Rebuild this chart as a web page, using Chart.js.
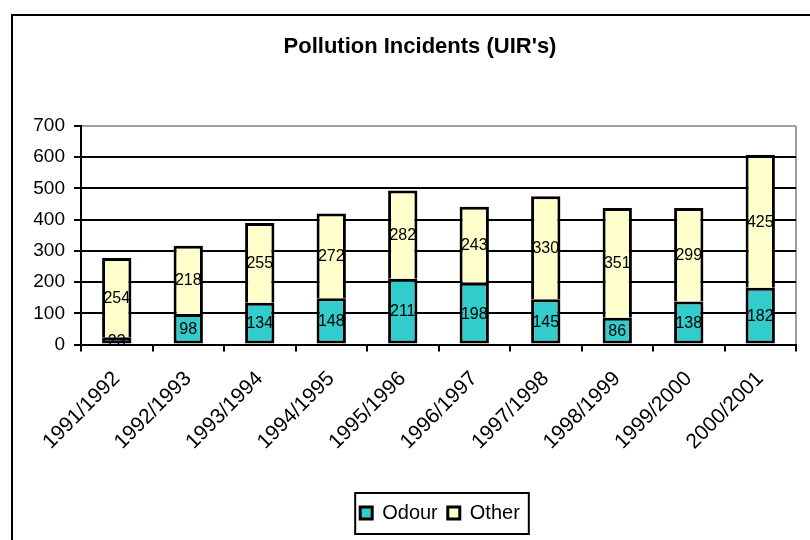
<!DOCTYPE html>
<html>
<head>
<meta charset="utf-8">
<script src="https://cdn.jsdelivr.net/npm/chart.js@4/dist/chart.umd.min.js"></script>
<style>
  html, body { margin: 0; padding: 0; background: #fff; }
  #wrap { width: 810px; height: 540px; }
</style>
</head>
<body>
<div id="wrap"><canvas id="c" width="810" height="540"></canvas></div>
<script>
// Pollution incident counts per reporting year
const years = ['1991/1992', '1992/1993', '1993/1994', '1994/1995', '1995/1996',
               '1996/1997', '1997/1998', '1998/1999', '1999/2000', '2000/2001'];
const odour = [23, 98, 134, 148, 211, 198, 145, 86, 138, 182];
const other = [254, 218, 255, 272, 282, 243, 330, 351, 299, 425];
const yTicks = [0, 100, 200, 300, 400, 500, 600, 700];

const FONT = "'Liberation Sans', Arial, sans-serif";
const GREY = '#a0a0a0';

// Outer frame of the chart object
const framePlugin = {
  id: 'frame',
  beforeDraw(chart) {
    const { ctx, width, height } = chart;
    ctx.save();
    ctx.fillStyle = '#fff';
    ctx.fillRect(0, 0, width, height);
    ctx.strokeStyle = '#000';
    ctx.lineWidth = 2;
    ctx.beginPath();
    ctx.moveTo(12, height);
    ctx.lineTo(12, 15);
    ctx.lineTo(width, 15);
    ctx.stroke();
    ctx.restore();
  }
};

// Title and legend sit centred on the whole frame rather than the plot
const centreOnFrame = {
  id: 'centreOnFrame',
  afterLayout(chart) {
    const move = (box, dx) => { if (box) { box.left += dx; box.right += dx; } };
    move(chart.titleBlock, 22);
    move(chart.legend, 42);
  }
};

// Value labels centred inside each stacked segment
const segmentLabels = {
  id: 'segmentLabels',
  afterDatasetsDraw(chart) {
    const { ctx } = chart;
    ctx.save();
    ctx.font = '16px ' + FONT;
    ctx.fillStyle = '#000';
    ctx.textAlign = 'center';
    ctx.textBaseline = 'middle';
    chart.data.datasets.forEach((ds, di) => {
      const meta = chart.getDatasetMeta(di);
      meta.data.forEach((bar, i) => {
        const p = bar.getProps(['x', 'y', 'base'], true);
        ctx.fillText(String(ds.data[i]), p.x, (p.y + p.base) / 2 + 1);
      });
    });
    ctx.restore();
  }
};

// Box drawn around the legend entries
const legendBox = {
  id: 'legendBox',
  afterDraw(chart) {
    const boxes = chart.legend && chart.legend.legendHitBoxes;
    if (!boxes || !boxes.length) return;
    const first = boxes[0], last = boxes[boxes.length - 1];
    const left = first.left - 5;
    const right = last.left + last.width + 9;
    const cy = first.top + first.height / 2;
    const { ctx } = chart;
    ctx.save();
    ctx.strokeStyle = '#000';
    ctx.lineWidth = 2;
    ctx.strokeRect(left, cy - 20, right - left, 41);
    ctx.restore();
  }
};

new Chart(document.getElementById('c'), {
  type: 'bar',
  data: {
    labels: years,
    datasets: [
      {
        label: 'Odour',
        data: odour,
        backgroundColor: '#33CCCC',
        borderColor: '#000000',
        borderWidth: 3,
        borderSkipped: false,
        barPercentage: 0.41,
        categoryPercentage: 1
      },
      {
        label: 'Other',
        data: other,
        backgroundColor: '#FFFFCC',
        borderColor: '#000000',
        borderWidth: 3,
        borderSkipped: 'bottom',
        barPercentage: 0.41,
        categoryPercentage: 1
      }
    ]
  },
  options: {
    responsive: false,
    animation: false,
    layout: { padding: { left: 0, right: 14, top: 0, bottom: 7 } },
    plugins: {
      title: {
        display: true,
        text: "Pollution Incidents (UIR's)",
        color: '#000',
        font: { family: FONT, size: 22, weight: 'bold' },
        padding: { top: 34, bottom: 65.6 }
      },
      legend: {
        display: true,
        position: 'bottom',
        labels: {
          color: '#000',
          font: { family: FONT, size: 20 },
          boxWidth: 12,
          boxHeight: 12,
          padding: 10
        }
      },
      tooltip: { enabled: false }
    },
    scales: {
      x: {
        stacked: true,
        afterFit(scale) { scale.height = 148.5; },
        grid: {
          offset: true,
          drawOnChartArea: true,
          color: (ctx) => (ctx.type === 'tick' ? 'rgba(0,0,0,0)' : GREY),
          tickColor: '#000',
          lineWidth: 2,
          tickLength: 7
        },
        border: { display: true, color: '#000', width: 2 },
        ticks: {
          color: '#000',
          font: { family: FONT, size: 21 },
          minRotation: 45,
          maxRotation: 45,
          autoSkip: false,
          padding: 15
        }
      },
      y: {
        stacked: true,
        min: 0,
        max: 700,
        afterFit(scale) { scale.width = 81; },
        afterBuildTicks(scale) { scale.ticks = yTicks.map(v => ({ value: v })); },
        grid: {
          color: (ctx) => (ctx.tick && ctx.tick.value === 700 ? GREY : '#000'),
          tickColor: '#000',
          lineWidth: 2,
          tickLength: 7
        },
        border: { display: true, color: '#000', width: 2 },
        ticks: {
          color: '#000',
          font: { family: FONT, size: 19 },
          padding: 9
        }
      }
    }
  },
  plugins: [framePlugin, centreOnFrame, segmentLabels, legendBox]
});
</script>
</body>
</html>
